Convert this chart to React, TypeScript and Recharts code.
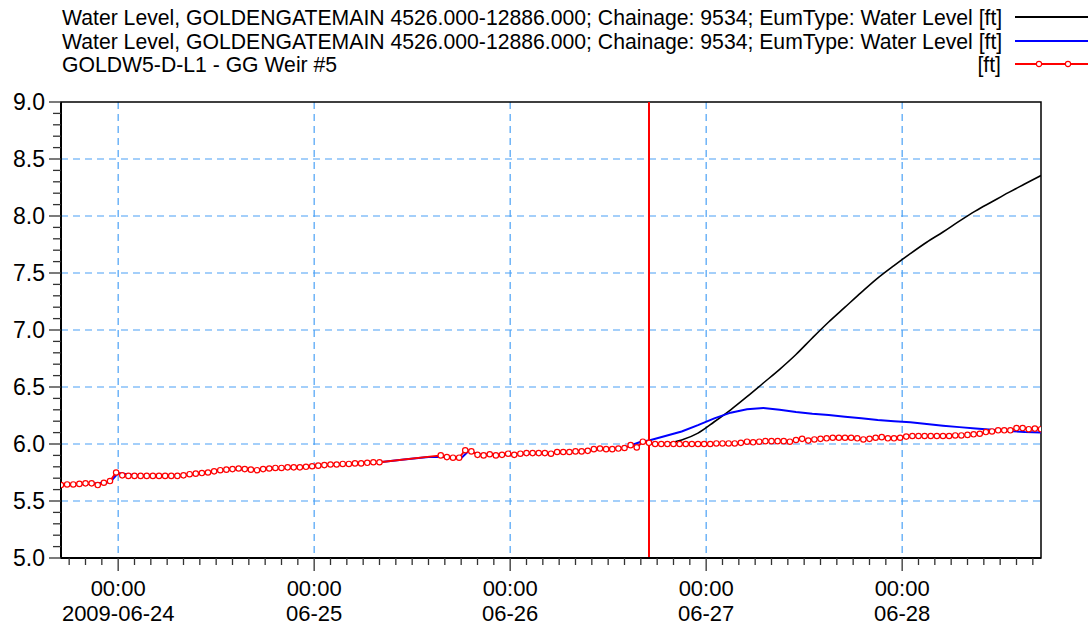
import { LineChart, Line, XAxis, YAxis, CartesianGrid, ReferenceLine, ReferenceArea } from "recharts";

// time axis is in hours relative to 2009-06-24 00:00
const T_START = -7; // 06-23 17:00
const T_END = 113; // 06-28 17:00
const FORECAST_T = 65; // 06-26 17:00 (time of forecast)

const DAY_HOURS = [0, 24, 48, 72, 96];
const DAY_LABELS = ["2009-06-24", "06-25", "06-26", "06-27", "06-28"];
const Y_MIN = 5;
const Y_MAX = 9;
const Y_GRID = [5.5, 6.0, 6.5, 7.0, 7.5, 8.0, 8.5];

const LEGEND_NAMES = [
  "Water Level, GOLDENGATEMAIN 4526.000-12886.000; Chainage: 9534; EumType: Water Level [ft]",
  "Water Level, GOLDENGATEMAIN 4526.000-12886.000; Chainage: 9534; EumType: Water Level [ft]",
  "GOLDW5-D-L1 - GG Weir #5",
];

// observed weir level, one reading every 45 min from 06-23 17:00, gap on 06-25
const OBS_STEP = 0.75;
const obsBeforeGap = [
  5.64, 5.645, 5.645, 5.65, 5.655, 5.655, 5.64, 5.66, 5.675, 5.75,
  5.725, 5.72, 5.72, 5.72, 5.72, 5.72, 5.72, 5.72, 5.72, 5.72,
  5.725, 5.735, 5.74, 5.745, 5.75, 5.76, 5.77, 5.775, 5.78, 5.785,
  5.78, 5.775, 5.77, 5.78, 5.785, 5.79, 5.79, 5.795, 5.795, 5.795,
  5.8, 5.805, 5.81, 5.815, 5.82, 5.82, 5.825, 5.825, 5.83, 5.83,
  5.835, 5.84, 5.84,
];
const OBS_RESUME_INDEX = 62;
const obsAfterGap = [
  5.9, 5.885, 5.88, 5.88, 5.945, 5.935, 5.905, 5.9, 5.91, 5.9,
  5.905, 5.915, 5.905, 5.915, 5.92, 5.92, 5.92, 5.92, 5.915, 5.93,
  5.93, 5.93, 5.935, 5.935, 5.94, 5.955, 5.96, 5.955, 5.955, 5.96,
  5.965, 5.99, 5.97, 6.02, 6.01, 6.0, 6.0, 6.0, 6.0, 6.0,
  6.0, 6.0, 6.0, 6.0, 6.0, 6.005, 6.005, 6.005, 6.005, 6.01,
  6.02, 6.015, 6.02, 6.025, 6.025, 6.025, 6.025, 6.02, 6.035, 6.045,
  6.03, 6.04, 6.045, 6.05, 6.055, 6.055, 6.055, 6.055, 6.05, 6.04,
  6.045, 6.055, 6.06, 6.05, 6.05, 6.055, 6.065, 6.07, 6.07, 6.07,
  6.07, 6.07, 6.07, 6.07, 6.075, 6.075, 6.08, 6.085, 6.09, 6.105,
  6.11, 6.12, 6.12, 6.12, 6.14, 6.14, 6.13, 6.135, 6.13,
];

// blue run: hindcast part (irregular times) then forecast part
const blueHindcastTimes = [-7, -4, -1, 0, 2, 5, 8, 11, 14, 17, 20, 23, 26, 29, 32, 35, 38, 41, 42, 43, 44, 47, 50, 53, 56, 59, 62, 63, 64];
const blueHindcast = [
  5.64, 5.65, 5.665, 5.745, 5.725, 5.72, 5.725, 5.75, 5.78, 5.775,
  5.79, 5.8, 5.82, 5.83, 5.84, 5.863, 5.886, 5.885, 5.875, 5.945,
  5.91, 5.905, 5.915, 5.92, 5.935, 5.955, 5.965, 5.995, 6.02,
];

// forecast outputs every 2 h from 06-26 17:00
const FORECAST_STEP = 2;
const blueForecast = [
  6.03, 6.07, 6.11, 6.165, 6.225, 6.275, 6.305, 6.316, 6.3, 6.28,
  6.265, 6.255, 6.24, 6.225, 6.21, 6.2, 6.19, 6.175, 6.16, 6.148,
  6.135, 6.125, 6.115, 6.105, 6.1,
];
const blackForecast = [
  6.0, 6.005, 6.035, 6.095, 6.195, 6.3, 6.415, 6.535, 6.655, 6.785,
  6.93, 7.07, 7.2, 7.33, 7.455, 7.565, 7.67, 7.77, 7.86, 7.955,
  8.045, 8.125, 8.205, 8.28, 8.355,
];

const FONT = "'Liberation Sans', Arial, sans-serif";
const GRID_COLOR = "#4aa0f5";

const obsData = [
  ...obsBeforeGap.map((v, i) => ({ t: T_START + i * OBS_STEP, v })),
  ...obsAfterGap.map((v, i) => ({ t: T_START + (OBS_RESUME_INDEX + i) * OBS_STEP, v })),
];
const blueData = [
  ...blueHindcastTimes.map((t, i) => ({ t, v: blueHindcast[i] })),
  ...blueForecast.map((v, i) => ({ t: FORECAST_T + i * FORECAST_STEP, v })),
];
const blackData = blackForecast.map((v, i) => ({ t: FORECAST_T + i * FORECAST_STEP, v }));

const xTicks: number[] = [];
for (let h = -6; h <= 112; h += 2) xTicks.push(h);
const yTicks: number[] = [];
for (let i = Y_MIN * 10; i <= Y_MAX * 10; i++) yTicks.push(i / 10);

function XTick(props: any) {
  const { x, y, payload } = props;
  const idx = DAY_HOURS.indexOf(payload.value);
  const major = idx >= 0;
  return (
    <g>
      <line x1={x} x2={x} y1={y} y2={y + (major ? 13 : 7)} stroke="#333" strokeWidth={1.3} />
      {major && (
        <text x={x} y={y + 38} textAnchor="middle" fontSize={22} fontFamily={FONT} fill="#000">
          00:00
        </text>
      )}
      {major && (
        <text x={x} y={y + 63} textAnchor="middle" fontSize={22} fontFamily={FONT} fill="#000">
          {DAY_LABELS[idx]}
        </text>
      )}
    </g>
  );
}

function YTick(props: any) {
  const { x, y, payload } = props;
  const tenth = Math.round(payload.value * 10);
  const major = tenth % 5 === 0;
  return (
    <g>
      <line x1={x} x2={x - (major ? 12 : 8)} y1={y} y2={y} stroke="#333" strokeWidth={1.3} />
      {major && (
        <text x={x - 16} y={y + 8} textAnchor="end" fontSize={23} fontFamily={FONT} fill="#000">
          {payload.value.toFixed(1)}
        </text>
      )}
    </g>
  );
}

function LegendBox() {
  const rows = [
    { y: 25, color: "#000000", marker: false },
    { y: 49, color: "#0000ff", marker: false },
    { y: 72, color: "#ff0000", marker: true },
  ];
  return (
    <svg width={1091} height={90} style={{ position: "absolute", left: 0, top: 0 }}>
      {rows.map((r, i) => (
        <g key={i}>
          <text x={62} y={r.y} fontSize={21.2} fontFamily={FONT} fill="#000">
            {LEGEND_NAMES[i]}
          </text>
          {r.marker && (
            <text x={1001} y={r.y} fontSize={21.2} fontFamily={FONT} fill="#000" textAnchor="end">
              [ft]
            </text>
          )}
          <line x1={1015} x2={1088} y1={r.y - 8} y2={r.y - 8} stroke={r.color} strokeWidth={1.8} />
          {r.marker && (
            <>
              <circle cx={1039} cy={r.y - 8} r={2.6} fill="#fff" stroke={r.color} strokeWidth={1.1} />
              <circle cx={1068} cy={r.y - 8} r={2.6} fill="#fff" stroke={r.color} strokeWidth={1.1} />
            </>
          )}
        </g>
      ))}
    </svg>
  );
}

export default function App() {
  return (
    <div style={{ position: "absolute", left: 0, top: 0, width: 1091, height: 628, background: "#fff", fontFamily: FONT }}>
      <LineChart width={1091} height={628} margin={{ top: 102, right: 50, bottom: 10, left: 0 }}>
        <CartesianGrid
          horizontal
          vertical
          horizontalValues={Y_GRID}
          verticalValues={DAY_HOURS}
          stroke={GRID_COLOR}
          strokeWidth={1.2}
          strokeDasharray="7 5"
        />
        <XAxis
          type="number"
          dataKey="t"
          domain={[T_START, T_END]}
          ticks={xTicks}
          interval={0}
          tickSize={0}
          tickMargin={0}
          tickLine={false}
          tick={<XTick />}
          height={60}
          axisLine={{ stroke: "#000", strokeWidth: 2 }}
          allowDataOverflow
        />
        <YAxis
          type="number"
          domain={[Y_MIN, Y_MAX]}
          ticks={yTicks}
          interval={0}
          tickSize={0}
          tickMargin={0}
          tickLine={false}
          tick={<YTick />}
          width={61}
          axisLine={{ stroke: "#000", strokeWidth: 2 }}
          allowDataOverflow
        />
        <ReferenceArea x1={T_START} x2={T_END} y1={Y_MIN} y2={Y_MAX} fill="none" stroke="#000" strokeWidth={1.5} ifOverflow="visible" />
        <Line data={blackData} dataKey="v" type="monotone" stroke="#000" strokeWidth={1.6} dot={false} activeDot={false} isAnimationActive={false} />
        <Line data={blueData} dataKey="v" type="linear" stroke="#0000ff" strokeWidth={2} dot={false} activeDot={false} isAnimationActive={false} />
        <Line
          data={obsData}
          dataKey="v"
          type="linear"
          stroke="#ff0000"
          strokeWidth={1.8}
          dot={{ r: 2.7, stroke: "#ff0000", strokeWidth: 1.2, fill: "#fff" }}
          activeDot={false}
          isAnimationActive={false}
        />
        <ReferenceLine x={FORECAST_T} stroke="#ff0000" strokeWidth={2} />
      </LineChart>
      <LegendBox />
    </div>
  );
}
